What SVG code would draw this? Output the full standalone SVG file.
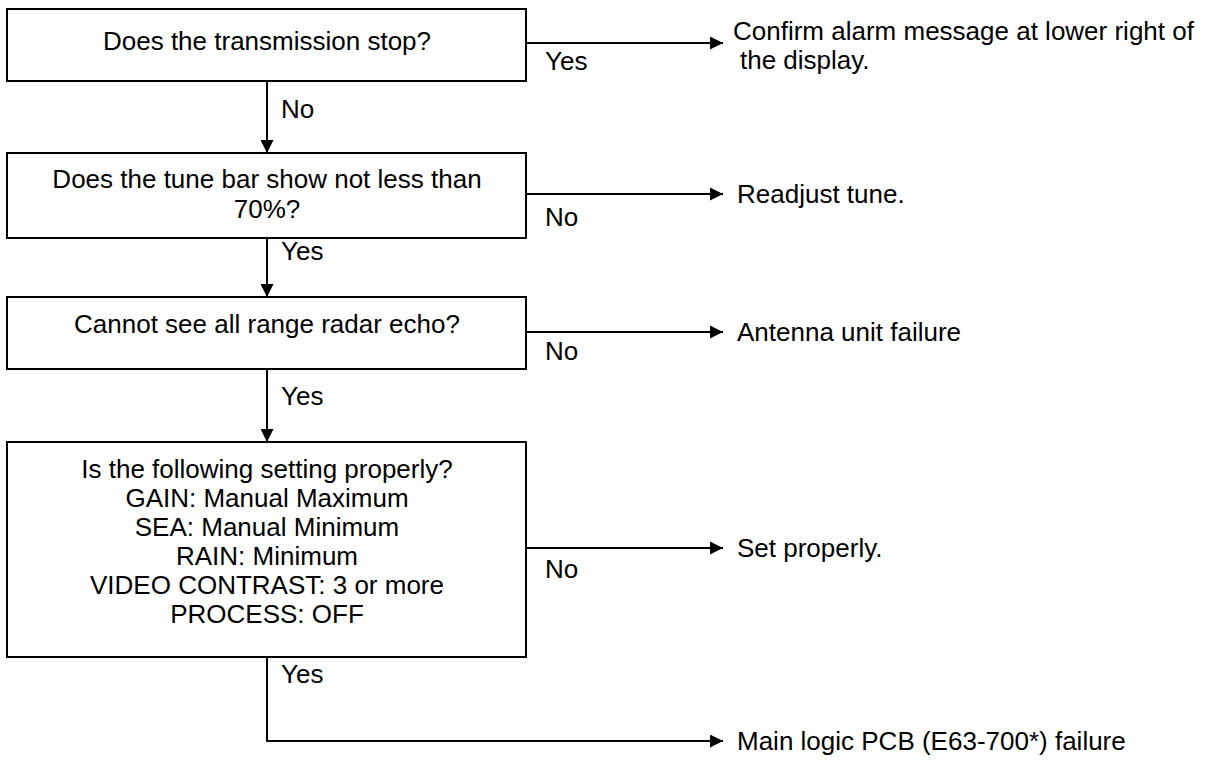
<svg xmlns="http://www.w3.org/2000/svg" width="1207" height="778" viewBox="0 0 1207 778">
<style>
.box{fill:#fff;stroke:#000;stroke-width:2}
.ln{fill:none;stroke:#000;stroke-width:2}
text{font-family:"Liberation Sans",Arial,sans-serif;font-size:26px;fill:#000}
.c{text-anchor:middle}
</style>
<defs>
<marker id="ah" viewBox="0 0 12 12" refX="12" refY="6" markerWidth="13" markerHeight="13" markerUnits="userSpaceOnUse" orient="auto">
<path d="M0,0 L12,6 L0,12 Z" fill="#000"/>
</marker>
</defs>
<rect width="1207" height="778" fill="#fff"/>
<g id="connectors">
<line class="ln" x1="267" y1="81" x2="267" y2="153" marker-end="url(#ah)"/>
<line class="ln" x1="267" y1="238" x2="267" y2="297" marker-end="url(#ah)"/>
<line class="ln" x1="267" y1="369" x2="267" y2="442" marker-end="url(#ah)"/>
<line class="ln" x1="526" y1="43" x2="723" y2="43" marker-end="url(#ah)"/>
<line class="ln" x1="526" y1="194" x2="723" y2="194" marker-end="url(#ah)"/>
<line class="ln" x1="526" y1="332" x2="723" y2="332" marker-end="url(#ah)"/>
<line class="ln" x1="526" y1="548" x2="723" y2="548" marker-end="url(#ah)"/>
<polyline class="ln" points="267,657 267,741 723,741" marker-end="url(#ah)"/>
<text x="281" y="118">No</text>
<text x="281" y="260">Yes</text>
<text x="281" y="405">Yes</text>
<text x="281" y="683">Yes</text>
<text x="545" y="70">Yes</text>
<text x="545" y="226">No</text>
<text x="545" y="360">No</text>
<text x="545" y="578">No</text>
</g>
<g id="q1">
<rect class="box" x="7" y="9" width="519" height="72"/>
<text class="c" x="267" y="50">Does the transmission stop?</text>
</g>
<g id="q2">
<rect class="box" x="7" y="153" width="519" height="85"/>
<text class="c" x="267" y="188">Does the tune bar show not less than</text>
<text class="c" x="267" y="218">70%?</text>
</g>
<g id="q3">
<rect class="box" x="7" y="297" width="519" height="72"/>
<text class="c" x="267" y="333">Cannot see all range radar echo?</text>
</g>
<g id="q4">
<rect class="box" x="7" y="442" width="519" height="215"/>
<text class="c" x="267" y="478">Is the following setting properly?</text>
<text class="c" x="267" y="507">GAIN: Manual Maximum</text>
<text class="c" x="267" y="536">SEA: Manual Minimum</text>
<text class="c" x="267" y="565">RAIN: Minimum</text>
<text class="c" x="267" y="594">VIDEO CONTRAST: 3 or more</text>
<text class="c" x="267" y="623">PROCESS: OFF</text>
</g>
<g id="r1">
<text x="733" y="40">Confirm alarm message at lower right of</text>
<text x="740" y="69">the display.</text>
</g>
<g id="r2"><text x="737" y="203">Readjust tune.</text></g>
<g id="r3"><text x="737" y="341">Antenna unit failure</text></g>
<g id="r4"><text x="737" y="557">Set properly.</text></g>
<g id="r5"><text x="737" y="750">Main logic PCB (E63-700*) failure</text></g>
</svg>
